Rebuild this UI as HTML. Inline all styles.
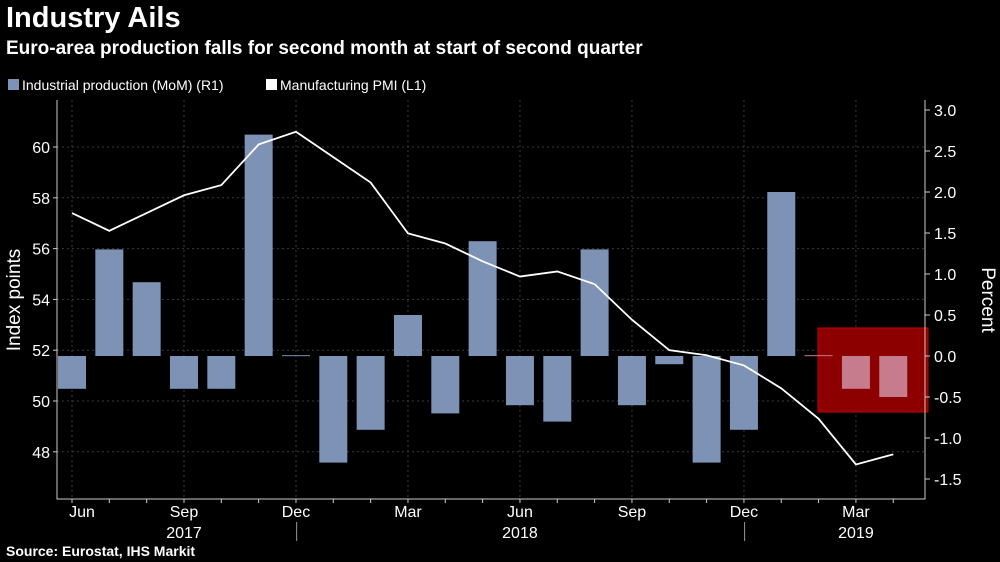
<!DOCTYPE html>
<html><head><meta charset="utf-8"><style>
body{margin:0;background:#000;width:1000px;height:562px;overflow:hidden;font-family:"Liberation Sans","DejaVu Sans",sans-serif;color:#fff}
#t{position:absolute;left:6px;top:2px;font-size:29px;font-weight:bold}
#st{position:absolute;left:6px;top:38px;font-size:19px;font-weight:bold}
#src{position:absolute;left:6px;top:543px;font-size:14px;font-weight:bold}
svg{position:absolute;left:0;top:0}
</style></head><body>
<div id="t">Industry Ails</div>
<div id="st">Euro-area production falls for second month at start of second quarter</div>
<div id="src">Source: Eurostat, IHS Markit</div>
<svg id="c" width="1000" height="562"></svg>
<script>
const months=["Jun","Jul","Aug","Sep","Oct","Nov","Dec","Jan","Feb","Mar","Apr","May","Jun","Jul","Aug","Sep","Oct","Nov","Dec","Jan","Feb","Mar","Apr"];
const ipValues=[-0.4,1.3,0.9,-0.4,-0.4,2.7,0.01,-1.3,-0.9,0.5,-0.7,1.4,-0.6,-0.8,1.3,-0.6,-0.1,-1.3,-0.9,2.0,0.01,-0.4,-0.5];
const pmiValues=[57.4,56.7,57.4,58.1,58.5,60.1,60.6,59.6,58.6,56.6,56.2,55.5,54.9,55.1,54.6,53.2,52.0,51.8,51.4,50.5,49.3,47.5,47.9];
const leftTicks=[48,50,52,54,56,58,60];
const rightTicks=[-1.5,-1.0,-0.5,0.0,0.5,1.0,1.5,2.0,2.5,3.0];
const labelIdx=[0,3,6,9,12,15,18,21];
const years=[{t:"2017",i:3},{t:"2018",i:12},{t:"2019",i:21}];
const NS="http://www.w3.org/2000/svg",svg=document.getElementById('c');
const x=i=>72+i*37.33;
const yR=v=>356-v*82;
const yL=v=>147+(60-v)*25.4;
function mk(tag,attrs,txt){const e=document.createElementNS(NS,tag);for(const k in attrs)e.setAttribute(k,attrs[k]);if(txt!==undefined)e.textContent=txt;svg.appendChild(e);return e;}
let e=mk('rect',{x:8,y:79,width:11,height:11,fill:'#7d92b4'});

e=mk('text',{x:22,y:90,fill:'#fff','font-size':14},'Industrial production (MoM) (R1)');

e=mk('rect',{x:266,y:79,width:11,height:11,fill:'#fff'});

e=mk('text',{x:280,y:90,fill:'#fff','font-size':14},'Manufacturing PMI (L1)');

leftTicks.forEach(v=>{e=mk('line',{x1:57,x2:925,y1:yL(v),y2:yL(v),stroke:'#3a3a3a','stroke-dasharray':'2,3'});
});
labelIdx.forEach(i=>{e=mk('line',{x1:x(i),x2:x(i),y1:100,y2:499,stroke:'#3a3a3a','stroke-dasharray':'2,3'});
});
e=mk('rect',{x:818,y:328,width:110,height:84,fill:'#8c0000',stroke:'#c00','stroke-width':1});

ipValues.forEach((v,i)=>{const y0=yR(0),y1=yR(v);e=mk('rect',{x:x(i)-14,y:Math.min(y0,y1),width:28,height:Math.max(1,Math.abs(y1-y0)),fill:i>=20?'#c67c8c':'#7d92b4'});
});
e=mk('polyline',{points:pmiValues.map((v,i)=>x(i)+','+yL(v)).join(' '),fill:'none',stroke:'#fff','stroke-width':1.8});

e=mk('path',{d:'M57,100V499H925V100',stroke:'#ccc',fill:'none','stroke-width':1});

leftTicks.forEach(v=>{mk('line',{x1:53,x2:57,y1:yL(v),y2:yL(v),stroke:'#ccc'});
e=mk('text',{x:50,y:yL(v)+6,fill:'#fff','font-size':16,'text-anchor':'end'},v);
});
rightTicks.forEach(v=>{mk('line',{x1:925,x2:930,y1:yR(v),y2:yR(v),stroke:'#ccc'});
e=mk('text',{x:934,y:yR(v)+6,fill:'#fff','font-size':16},v.toFixed(1));
});
months.forEach((m,i)=>{mk('line',{x1:x(i),x2:x(i),y1:499,y2:503,stroke:'#ccc'});});
labelIdx.forEach(i=>{e=mk('text',{x:i==0?x(i)+10:x(i),y:517,fill:'#fff','font-size':16,'text-anchor':'middle'},months[i]);
});
years.forEach(y=>{e=mk('text',{x:x(y.i),y:538,fill:'#fff','font-size':16,'text-anchor':'middle'},y.t);
});
[6.5,18.5].forEach(p=>{mk('line',{x1:x(p)-18,x2:x(p)-18,y1:522,y2:541,stroke:'#999'});});
e=mk('text',{x:20,y:300,fill:'#fff','font-size':19,'text-anchor':'middle',transform:'rotate(-90 20 300)'},'Index points');

e=mk('text',{x:982,y:300,fill:'#fff','font-size':19,'text-anchor':'middle',transform:'rotate(90 982 300)'},'Percent');

</script>
</body></html>
